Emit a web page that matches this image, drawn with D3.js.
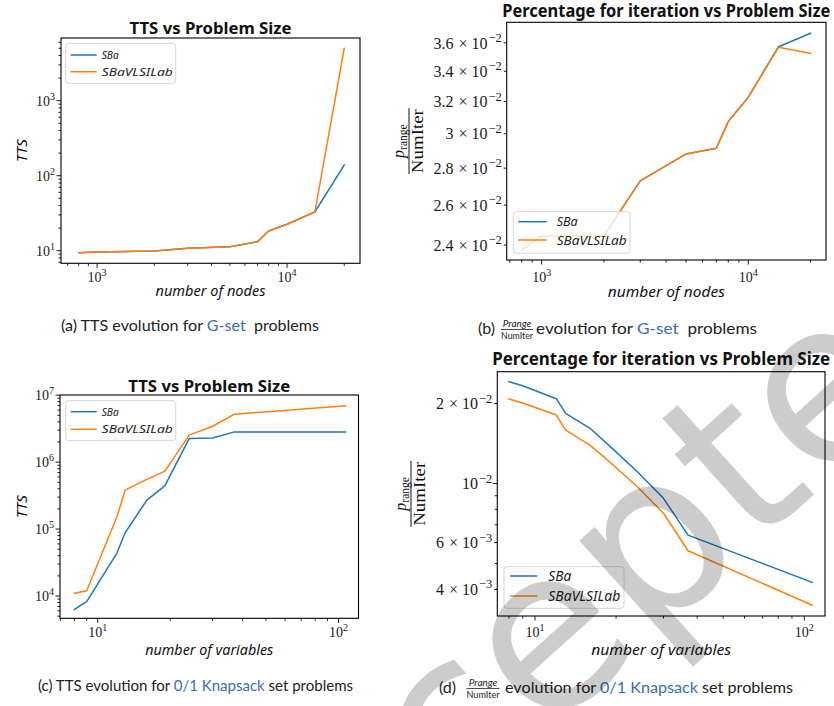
<!DOCTYPE html>
<html>
<head>
<meta charset="utf-8">
<script src="https://cdn.jsdelivr.net/npm/d3@7"></script>
<style>
  body { margin: 0; background: #fff; }
  svg { display: block; }
</style>
</head>
<body>
<svg id="fig" width="834" height="706"></svg>
<script>
// ---- data -----------------------------------------------------------------
const seriesNames = ["SBa", "SBaVLSILab"];
const seriesColors = ["#1f77b4", "#ff7f0e"];

// G-set instances (number of nodes)
const gsetNodes   = [800, 1000, 2000, 3000, 5000, 7000, 8000, 10000, 14000, 20000];
const gsetTtsSBa  = [9.4, 9.6, 9.9, 10.8, 11.3, 13.2, 18.3, 22.5, 32.8, 139];
const gsetTtsVLSI = [9.4, 9.6, 9.9, 10.8, 11.3, 13.2, 18.3, 22.5, 32.8, 5000];
const gsetPctSBa  = [0.02376, 0.02445, 0.02445, 0.02729, 0.02881, 0.02914, 0.03074, 0.03228, 0.03572, 0.03669];
const gsetPctVLSI = [0.02376, 0.02445, 0.02445, 0.02729, 0.02881, 0.02914, 0.03074, 0.03228, 0.03568, 0.03525];

// 0/1 Knapsack instances (number of variables)
const knapVars    = [8, 9, 12, 13, 16, 19, 24, 30, 37, 107];
const knapTtsSBa  = [6310, 8220, 43400, 88100, 271000, 443000, 2.26e6, 2.3e6, 2.83e6, 2.83e6];
const knapTtsVLSI = [10970, 12000, 150000, 382000, 552000, 735000, 2.53e6, 3.44e6, 5.2e6, 6.92e6];
const knapPctSBa  = [0.02413, 0.02330, 0.02084, 0.01836, 0.01613, 0.01380, 0.01108, 0.00880, 0.00640, 0.00425];
const knapPctVLSI = [0.02078, 0.02009, 0.01809, 0.01589, 0.01395, 0.01202, 0.00973, 0.00773, 0.00559, 0.00349];

// tick values and their labels ([mantissa, exponent]; null mantissa = plain power of ten)
const nodeTicks      = [1000, 10000];
const nodeTickLabels = [[null, "3"], [null, "4"]];
const varTicks       = [10, 100];
const varTickLabels  = [[null, "1"], [null, "2"]];
const ttsGsetTicks   = [10, 100, 1000];
const ttsGsetLabels  = [[null, "1"], [null, "2"], [null, "3"]];
const ttsKnapTicks   = [1e4, 1e5, 1e6, 1e7];
const ttsKnapLabels  = [[null, "4"], [null, "5"], [null, "6"], [null, "7"]];
const pctGsetTicks   = [0.024, 0.026, 0.028, 0.030, 0.032, 0.034, 0.036];
const pctGsetLabels  = [["2.4", "−2"], ["2.6", "−2"], ["2.8", "−2"], ["3", "−2"], ["3.2", "−2"], ["3.4", "−2"], ["3.6", "−2"]];
const pctKnapTicks   = [0.02, 0.01, 0.006, 0.004];
const pctKnapLabels  = [["2", "−2"], [null, "−2"], ["6", "−3"], ["4", "−3"]];

const titles = ["TTS vs Problem Size", "Percentage for iteration vs Problem Size",
                "TTS vs Problem Size", "Percentage for iteration vs Problem Size"];

// ---- layout ---------------------------------------------------------------
const svg = d3.select("#fig");
const SANS = "'Noto Sans', 'DejaVu Sans', sans-serif";
const SERIF = "'Liberation Serif', 'DejaVu Serif', serif";
const CAP = "Lato, 'Open Sans', sans-serif";
const LINK = "#3b6db3";

const panels = [
  { box: {l: 61, r: 360, t: 38, b: 263.3},
    xDom: [Math.pow(10, 2.81), Math.pow(10, 4.384)], yDom: [Math.pow(10, 0.832), Math.pow(10, 3.836)],
    x: gsetNodes, ys: [gsetTtsSBa, gsetTtsVLSI],
    xt: nodeTicks, xtl: nodeTickLabels, yt: ttsGsetTicks, ytl: ttsGsetLabels, yMinor: true,
    title: titles[0], titleW: 162, titleY: 33.5, titleSize: 16,
    xlabel: "number of nodes", xlabelW: 110, xlabelY: 296, xlabelSize: 14,
    ylabel: {kind: "tts", x: 27, size: 15},
    tickSize: 14, xtY: 282, ytGap: 6,
    legend: {l: 65.7, r: 175.7, t: 43.3, b: 83.3, y1: 55, y2: 71.7, x1: 70.7, x2: 96.7, tx: 101.7, size: 11.5, tw: [17, 71]}
  },
  { box: {l: 506.7, r: 826, t: 22.3, b: 260},
    xDom: [Math.pow(10, 2.8307), Math.pow(10, 4.376)], yDom: [0.02329, 0.03751],
    x: gsetNodes, ys: [gsetPctSBa, gsetPctVLSI],
    xt: nodeTicks, xtl: nodeTickLabels, yt: pctGsetTicks, ytl: pctGsetLabels, yMinor: false,
    title: titles[1], titleW: 328, titleY: 17, titleSize: 17,
    xlabel: "number of nodes", xlabelW: 117, xlabelY: 296.7, xlabelSize: 15,
    ylabel: {kind: "frac", bar: 409, size: 16},
    tickSize: 16, xtY: 282, ytGap: 5, multGap: true,
    legend: {l: 513.3, r: 630, t: 211.7, b: 253.3, y1: 221.7, y2: 240, x1: 518.3, x2: 546.7, tx: 556.7, size: 13, tw: [21, 70]}
  },
  { box: {l: 60, r: 358.5, t: 395, b: 618.3},
    xDom: [Math.pow(10, 0.8434), Math.pow(10, 2.083)], yDom: [Math.pow(10, 3.667), Math.pow(10, 7.003)],
    x: knapVars, ys: [knapTtsSBa, knapTtsVLSI],
    xt: varTicks, xtl: varTickLabels, yt: ttsKnapTicks, ytl: ttsKnapLabels, yMinor: true,
    title: titles[2], titleW: 162, titleY: 391.7, titleSize: 16,
    xlabel: "number of variables", xlabelW: 128, xlabelY: 655, xlabelSize: 14,
    ylabel: {kind: "tts", x: 27, size: 15},
    tickSize: 14, xtY: 637, ytGap: 6,
    legend: {l: 65.7, r: 175.7, t: 400.7, b: 440.7, y1: 411.7, y2: 429.3, x1: 70.7, x2: 96.7, tx: 101.7, size: 11.5, tw: [17, 71]}
  },
  { box: {l: 497.3, r: 825, t: 371.7, b: 616},
    xDom: [Math.pow(10, 0.86), Math.pow(10, 2.077)], yDom: [0.003177, 0.02633],
    x: knapVars, ys: [knapPctSBa, knapPctVLSI],
    xt: varTicks, xtl: varTickLabels, yt: pctKnapTicks, ytl: pctKnapLabels, yMinor: true,
    title: titles[3], titleW: 338, titleY: 365, titleSize: 17,
    xlabel: "number of variables", xlabelW: 140, xlabelY: 655, xlabelSize: 15,
    ylabel: {kind: "frac", bar: 411, size: 16},
    tickSize: 16, xtY: 637, ytGap: 5, multGap: true,
    legend: {l: 504, r: 624, t: 566.7, b: 608.3, y1: 576, y2: 596, x1: 510, x2: 537.3, tx: 548.3, size: 13.5, tw: [23, 72]}
  }
];

// minor log ticks (2..9 x 10^k) inside a domain
function minorTicks(dom) {
  const out = [];
  const k0 = Math.floor(Math.log10(dom[0])), k1 = Math.ceil(Math.log10(dom[1]));
  for (let k = k0; k <= k1; k++)
    for (let m = 2; m <= 9; m++) {
      const v = m * Math.pow(10, k);
      if (v >= dom[0] && v <= dom[1]) out.push(v);
    }
  return out;
}

// "mantissa × 10^exp" or "10^exp" as SVG text
function powerLabel(g, lab, x, y, size, anchor, wide) {
  const t = g.append("text").attr("x", x).attr("y", y)
    .attr("font-family", SERIF).attr("font-size", size).attr("fill", "#1a1a1a")
    .attr("text-anchor", anchor);
  if (lab[0]) {
    t.append("tspan").text(lab[0]);
    t.append("tspan").attr("dx", wide ? 5 : 1).text("×");
    t.append("tspan").attr("dx", wide ? 4 : 1).text("10");
  } else {
    t.append("tspan").text("10");
  }
  const es = wide ? size * 0.78 : size * 0.72;
  t.append("tspan").attr("dx", wide ? 1 : 0).attr("dy", -size * 0.42).attr("font-size", es).text(lab[1]);
  return t;
}

panels.forEach((p, i) => {
  const g = svg.append("g");
  const B = p.box;
  const x = d3.scaleLog().domain(p.xDom).range([B.l, B.r]);
  const y = d3.scaleLog().domain(p.yDom).range([B.b, B.t]);

  const clipId = "clip" + i;
  svg.append("clipPath").attr("id", clipId).append("rect")
    .attr("x", B.l).attr("y", B.t).attr("width", B.r - B.l).attr("height", B.b - B.t);

  // series lines
  const line = d3.line().x(d => x(d[0])).y(d => y(d[1]));
  p.ys.forEach((vals, s) => {
    g.append("path").datum(p.x.map((v, j) => [v, vals[j]]))
      .attr("clip-path", `url(#${clipId})`)
      .attr("d", line).attr("fill", "none")
      .attr("stroke", seriesColors[s]).attr("stroke-width", 1.5)
      .attr("stroke-linejoin", "round").attr("stroke-linecap", "square");
  });

  // frame
  g.append("rect").attr("x", B.l).attr("y", B.t).attr("width", B.r - B.l).attr("height", B.b - B.t)
    .attr("fill", "none").attr("stroke", "#000").attr("stroke-width", 1.1);

  // x ticks
  const tk = g.append("g").attr("stroke", "#000").attr("stroke-width", 0.9);
  minorTicks(p.xDom).forEach(v => tk.append("line")
    .attr("x1", x(v)).attr("x2", x(v)).attr("y1", B.b).attr("y2", B.b + 2.5));
  p.xt.forEach((v, j) => {
    tk.append("line").attr("x1", x(v)).attr("x2", x(v)).attr("y1", B.b).attr("y2", B.b + 4.5);
    powerLabel(g, p.xtl[j], x(v), p.xtY, 14, "middle", false);
  });

  // y ticks
  if (p.yMinor) minorTicks(p.yDom).forEach(v => tk.append("line")
    .attr("x1", B.l).attr("x2", B.l - 2.5).attr("y1", y(v)).attr("y2", y(v)));
  p.yt.forEach((v, j) => {
    const lab = p.ytl[j];
    const major = lab[0] === null;
    tk.append("line").attr("x1", B.l).attr("x2", B.l - (major ? 4.5 : 3)).attr("y1", y(v)).attr("y2", y(v));
    powerLabel(g, lab, B.l - p.ytGap, y(v) + p.tickSize * 0.36, p.tickSize, "end", p.multGap);
  });

  // title
  g.append("text").attr("x", (B.l + B.r) / 2).attr("y", p.titleY)
    .attr("text-anchor", "middle").attr("font-family", SANS).attr("font-weight", 700)
    .attr("font-size", p.titleSize).attr("fill", "#111")
    .attr("textLength", p.titleW).attr("lengthAdjust", "spacingAndGlyphs").text(p.title);

  // x label
  g.append("text").attr("x", (B.l + B.r) / 2).attr("y", p.xlabelY)
    .attr("text-anchor", "middle").attr("font-family", SANS).attr("font-style", "italic")
    .attr("font-size", p.xlabelSize).attr("fill", "#111")
    .attr("textLength", p.xlabelW).attr("lengthAdjust", "spacingAndGlyphs").text(p.xlabel);

  // y label
  const cy = (B.t + B.b) / 2;
  if (p.ylabel.kind === "tts") {
    g.append("text").attr("transform", `translate(${p.ylabel.x},${cy}) rotate(-90)`)
      .attr("text-anchor", "middle").attr("font-family", SANS).attr("font-style", "italic")
      .attr("font-size", p.ylabel.size).attr("fill", "#111").text("TTS");
  } else {
    const fg = g.append("g").attr("transform", `translate(${p.ylabel.bar},${cy}) rotate(-90)`);
    const num = fg.append("text").attr("x", 0).attr("y", -5).attr("text-anchor", "middle")
      .attr("font-family", SERIF).attr("font-size", p.ylabel.size).attr("fill", "#111");
    num.append("tspan").attr("font-style", "italic").text("p");
    num.append("tspan").attr("dy", 3).attr("font-size", p.ylabel.size * 0.72).text("range");
    fg.append("line").attr("x1", -33).attr("x2", 33).attr("y1", 0).attr("y2", 0)
      .attr("stroke", "#111").attr("stroke-width", 1);
    fg.append("text").attr("x", 0).attr("y", 14).attr("text-anchor", "middle")
      .attr("font-family", SERIF).attr("font-size", p.ylabel.size).attr("fill", "#111")
      .attr("textLength", 64).attr("lengthAdjust", "spacingAndGlyphs").text("NumIter");
  }

  // legend
  const L = p.legend;
  g.append("rect").attr("x", L.l).attr("y", L.t).attr("width", L.r - L.l).attr("height", L.b - L.t)
    .attr("rx", 3).attr("fill", "#fff").attr("fill-opacity", 0.8)
    .attr("stroke", "#d6d6d6").attr("stroke-width", 1);
  [L.y1, L.y2].forEach((ly, s) => {
    g.append("line").attr("x1", L.x1).attr("x2", L.x2).attr("y1", ly).attr("y2", ly)
      .attr("stroke", seriesColors[s]).attr("stroke-width", 1.5);
    g.append("text").attr("x", L.tx).attr("y", ly + L.size * 0.36)
      .attr("font-family", SANS).attr("font-style", "italic").attr("font-size", L.size).attr("fill", "#222")
      .attr("textLength", L.tw[s]).attr("lengthAdjust", "spacingAndGlyphs").text(seriesNames[s]);
  });
});

// ---- captions -------------------------------------------------------------
function caption(x, y, size, width, parts) {
  const t = svg.append("text").attr("x", x).attr("y", y).style("white-space", "pre")
    .attr("font-family", CAP).attr("font-size", size).attr("fill", "#222");
  if (width) t.attr("textLength", width).attr("lengthAdjust", "spacingAndGlyphs");
  parts.forEach(pt => t.append("tspan").attr("fill", pt[1] ? LINK : "#222").text(pt[0]));
  return t;
}
function fracLabel(cx, y, w) {
  const g = svg.append("g");
  g.append("text").attr("x", cx).attr("y", y - 7).attr("text-anchor", "middle")
    .attr("font-family", CAP).attr("font-style", "italic").attr("font-size", 10).attr("fill", "#222").text("Prange");
  g.append("line").attr("x1", cx - w / 2).attr("x2", cx + w / 2).attr("y1", y - 4.5).attr("y2", y - 4.5)
    .attr("stroke", "#222").attr("stroke-width", 0.8);
  g.append("text").attr("x", cx).attr("y", y + 4.5).attr("text-anchor", "middle")
    .attr("font-family", CAP).attr("font-size", 10).attr("fill", "#222")
    .attr("textLength", w).attr("lengthAdjust", "spacingAndGlyphs").text("NumIter");
}
caption(61, 331, 15, 258, [["(a) TTS evolution for "], ["G-set", true], ["  problems"]]);
caption(478, 334, 16, null, [["(b)"]]);
fracLabel(517, 334, 32);
caption(536, 334, 16, 221, [["evolution for "], ["G-set", true], ["  problems"]]);
caption(38, 691, 15, 315, [["(c) TTS evolution for "], ["0/1 Knapsack", true], [" set problems"]]);
caption(439, 693, 16, null, [["(d)"]]);
fracLabel(483, 693, 33);
caption(505, 693, 16, 288, [["evolution for "], ["0/1 Knapsack", true], [" set problems"]]);

// ---- watermark ------------------------------------------------------------
svg.append("text").attr("transform", "translate(585,595) rotate(-42)")
  .attr("text-anchor", "middle").attr("dy", "0.35em")
  .attr("font-family", "'DejaVu Sans', sans-serif").attr("font-size", 225)
  .attr("fill", "#000").attr("fill-opacity", 0.2).text("Accepted");
</script>
</body>
</html>
